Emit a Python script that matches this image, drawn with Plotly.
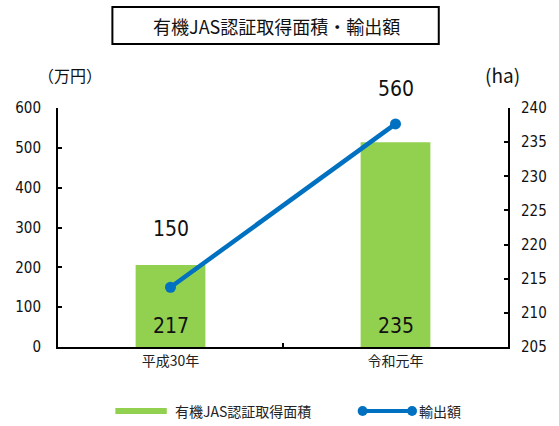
import plotly.graph_objects as go

# 有機JAS認証取得面積 (ha) and 輸出額 (万円)
categories = ["平成30年", "令和元年"]
area_ha = [217, 235]
export_man_yen = [150, 560]

# vertical offsets (px) of the export value labels above their points
export_label_shift = [58, 35]

AREA_FLOOR = 205
BAR_COLOR = "#92D050"
LINE_COLOR = "#0070C0"
NUM_FONT = "DejaVu Sans Condensed, Liberation Sans, sans-serif"
JP_FONT = "Noto Sans CJK JP"

W, H = 559, 426
L, R, T, B = 58, 46, 108, 79
pw, ph = W - L - R, H - T - B


def px_x(p):
    return (p - L) / pw


def px_y(p):
    return 1 - (p - T) / ph


fig = go.Figure()

fig.add_trace(go.Bar(
    x=categories, y=[v - AREA_FLOOR for v in area_ha], base=AREA_FLOOR,
    yaxis="y", marker=dict(color=BAR_COLOR, line=dict(width=0)),
    width=0.31, name="有機JAS認証取得面積", showlegend=False,
))

fig.add_trace(go.Scatter(
    x=categories, y=export_man_yen, yaxis="y2",
    mode="lines+markers",
    line=dict(color=LINE_COLOR, width=4.5),
    marker=dict(color=LINE_COLOR, size=11),
    name="輸出額", showlegend=False,
))

annotations = []
for c, v, s in zip(categories, export_man_yen, export_label_shift):
    annotations.append(dict(
        x=c, y=v, xref="x", yref="y2", text=str(v), showarrow=False,
        yshift=s, yanchor="middle",
        font=dict(family=NUM_FONT, size=21, color="#111"),
    ))
for c, v in zip(categories, area_ha):
    annotations.append(dict(
        x=c, y=AREA_FLOOR, xref="x", yref="y", text=str(v), showarrow=False,
        yshift=21, yanchor="middle",
        font=dict(family=NUM_FONT, size=21, color="#111"),
    ))


def free_text(x, y, text, size, anchor="center", font=JP_FONT, color="#111"):
    return dict(x=px_x(x), y=px_y(y), xref="paper", yref="paper", text=text,
                showarrow=False, xanchor=anchor, yanchor="middle",
                font=dict(family=font, size=size, color=color))


annotations += [
    free_text(279, 26, "有機JAS認証取得面積・輸出額", 18),
    free_text(70, 75, "（万円）", 16),
    free_text(507, 75, "(ha)", 19),
    free_text(174, 411, "有機JAS認証取得面積", 14, anchor="left", color="#222"),
    free_text(421, 411, "輸出額", 14, anchor="left", color="#222"),
]

shapes = [
    # title frame
    dict(type="rect", xref="paper", yref="paper",
         x0=px_x(113), x1=px_x(443), y0=px_y(44), y1=px_y(7),
         line=dict(color="#000", width=2), fillcolor="rgba(0,0,0,0)"),
    # legend keys
    dict(type="line", xref="paper", yref="paper",
         x0=px_x(116), x1=px_x(168), y0=px_y(411), y1=px_y(411),
         line=dict(color=BAR_COLOR, width=6)),
    dict(type="line", xref="paper", yref="paper",
         x0=px_x(366), x1=px_x(416), y0=px_y(411), y1=px_y(411),
         line=dict(color=LINE_COLOR, width=4)),
    dict(type="circle", xref="paper", yref="paper",
         x0=px_x(361), x1=px_x(371), y0=px_y(416), y1=px_y(406),
         line=dict(width=0), fillcolor=LINE_COLOR),
    dict(type="circle", xref="paper", yref="paper",
         x0=px_x(411), x1=px_x(421), y0=px_y(416), y1=px_y(406),
         line=dict(width=0), fillcolor=LINE_COLOR),
]

fig.update_layout(
    width=W, height=H,
    margin=dict(l=L, r=R, t=T, b=B, pad=0),
    paper_bgcolor="white", plot_bgcolor="white",
    showlegend=False,
    annotations=annotations,
    shapes=shapes,
    xaxis=dict(
        type="category", showline=True, linecolor="#000", linewidth=2,
        ticks="inside", ticklen=4, tickcolor="#000", tickwidth=1.5,
        tickson="boundaries", showgrid=False, zeroline=False,
        tickfont=dict(family=JP_FONT, size=14, color="#222"),
    ),
    yaxis=dict(
        side="right", range=[AREA_FLOOR, 240], dtick=5, tick0=AREA_FLOOR,
        showline=True, linecolor="#000", linewidth=2,
        ticks="inside", ticklen=4, tickcolor="#000", tickwidth=1.5,
        showgrid=False, zeroline=False, ticklabelstandoff=8,
        tickfont=dict(family=NUM_FONT, size=15, color="#111"),
    ),
    yaxis2=dict(
        side="left", overlaying="y", range=[0, 600], dtick=100,
        showline=True, linecolor="#000", linewidth=2,
        ticks="inside", ticklen=4, tickcolor="#000", tickwidth=1.5,
        showgrid=False, zeroline=False, ticklabelstandoff=12,
        tickfont=dict(family=NUM_FONT, size=15, color="#111"),
    ),
)

fig.write_html("out.html")
